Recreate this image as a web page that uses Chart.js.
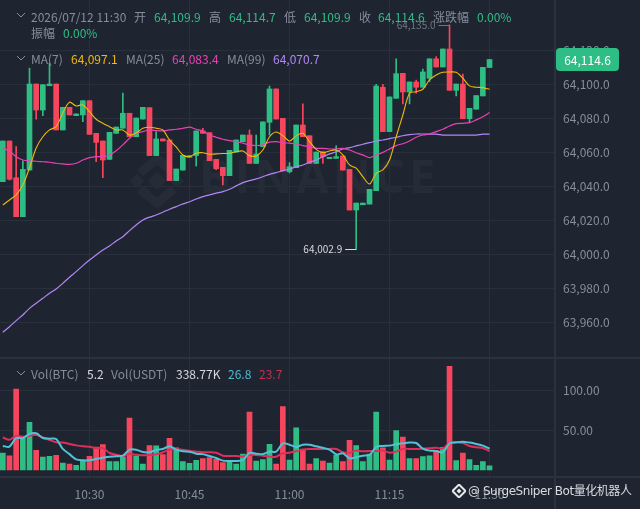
<!DOCTYPE html>
<html>
<head>
<meta charset="utf-8">
<title>BTCUSDT 1m</title>
<script src="https://cdn.jsdelivr.net/npm/chart.js@4"></script>
<style>
  html, body { margin: 0; padding: 0; background: #1f2530; }
  #wrap { position: relative; width: 640px; height: 509px; overflow: hidden; font: 12px "Noto Sans CJK SC", "Noto Sans", sans-serif; color: #848e9c; }
  canvas { position: absolute; left: 0; }
  #priceChart { top: 0; }
  #volChart { top: 358px; }
  #wrap span { position: absolute; white-space: nowrap; line-height: 16px; }
  #wrap svg { position: absolute; }
  .up { color: #2ebd85; }
  .w { color: #d5d9df; }
  .hr { position: absolute; left: 0; width: 640px; height: 2px; background: #2c323d; }
  .vr { position: absolute; left: 554px; top: 0; width: 2px; height: 509px; background: #2c323d; }
</style>
</head>
<body>
<div id="wrap">
  <canvas id="priceChart" width="640" height="358"></canvas>
  <canvas id="volChart" width="640" height="151"></canvas>
  <div class="hr" style="top:357px"></div>
  <div class="hr" style="top:476px"></div>
  <div class="vr"></div>

  <svg style="left:16px;top:12px" width="10" height="7"><polyline points="1,1 5,5 9,1" fill="none" stroke="#848e9c" stroke-width="1"/></svg>
  <span style="left:31px;top:9px">2026/07/12 11:30</span>
  <span style="left:134px;top:9px">开</span><span class="up" style="left:154px;top:9px">64,109.9</span>
  <span style="left:209px;top:9px">高</span><span class="up" style="left:229px;top:9px">64,114.7</span>
  <span style="left:284px;top:9px">低</span><span class="up" style="left:304px;top:9px">64,109.9</span>
  <span style="left:359px;top:9px">收</span><span class="up" style="left:378px;top:9px">64,114.6</span>
  <span style="left:433px;top:9px">涨跌幅</span><span class="up" style="left:477px;top:9px">0.00%</span>
  <span style="left:31px;top:25px">振幅</span><span class="up" style="left:63px;top:25px">0.00%</span>

  <svg style="left:16px;top:55px" width="10" height="7"><polyline points="1,1 5,5 9,1" fill="none" stroke="#848e9c" stroke-width="1"/></svg>
  <span style="left:31px;top:51px">MA(7)</span><span style="left:71px;top:51px;color:#f0b90b">64,097.1</span>
  <span style="left:126px;top:51px">MA(25)</span><span style="left:172px;top:51px;color:#eb40b5">64,083.4</span>
  <span style="left:227px;top:51px">MA(99)</span><span style="left:273px;top:51px;color:#b385f8">64,070.7</span>

  <svg style="left:16px;top:370px" width="10" height="7"><polyline points="1,1 5,5 9,1" fill="none" stroke="#848e9c" stroke-width="1"/></svg>
  <span style="left:31px;top:366px">Vol(BTC)</span><span class="w" style="left:87px;top:366px">5.2</span>
  <span style="left:111px;top:366px">Vol(USDT)</span><span class="w" style="left:176px;top:366px">338.77K</span>
  <span style="left:228px;top:366px;color:#4fb9cf">26.8</span><span style="left:259px;top:366px;color:#c4304f">23.7</span>

  <svg style="left:452px;top:484px" width="14" height="14" viewBox="0 0 14 14"><path d="M7 0.5 13.5 7 7 13.5 0.5 7Z" fill="none" stroke="#e6e8ea" stroke-width="2"/><path d="M7 4.5 9.5 7 7 9.5 4.5 7Z" fill="#e6e8ea"/></svg>
  <span style="left:468px;top:483px;color:#d8dbe0;font-family:'DejaVu Sans','Noto Sans CJK SC',sans-serif;font-size:12px;letter-spacing:-0.45px">@ SurgeSniper Bot量化机器人</span>
</div>

<script>
const opens = [
  64042.8, 64066.7, 64045.1, 64022.2, 64049.6, 64100.2, 64084.9, 64099.2, 64100.2, 64073.2,
  64086.5, 64081.6, 64082.0, 64090.4, 64071.2, 64066.7, 64055.9, 64071.2, 64074.2, 64083.0,
  64069.2, 64079.6, 64086.3, 64058.1, 64067.9, 64067.3, 64043.4, 64049.6, 64057.1, 64058.1,
  64072.6, 64071.6, 64055.9, 64051.2, 64046.3, 64060.2, 64066.3, 64070.2, 64053.5, 64063.4,
  64077.7, 64097.3, 64080.0, 64048.6, 64051.0, 64076.1, 64069.8, 64053.5, 64060.4, 64056.3,
  64056.5, 64057.9, 64050.0, 64026.1, 64029.2, 64029.6, 64037.5, 64098.3, 64072.2, 64091.8,
  64106.5, 64095.5, 64101.4, 64098.3, 64103.6, 64115.0, 64110.2, 64120.8, 64096.5, 64100.2,
  64079.8, 64085.4, 64093.2, 64109.9
]
const closes = [
  64066.7, 64044.2, 64022.2, 64050.0, 64100.2, 64084.9, 64099.8, 64100.2, 64073.2, 64086.5,
  64082.0, 64082.6, 64090.4, 64070.6, 64065.9, 64055.5, 64071.8, 64074.9, 64083.0, 64069.2,
  64080.2, 64086.5, 64058.1, 64067.9, 64066.7, 64043.4, 64050.2, 64058.3, 64058.1, 64072.6,
  64071.2, 64055.1, 64050.4, 64046.3, 64061.2, 64067.3, 64070.2, 64053.5, 64059.0, 64077.9,
  64097.3, 64079.6, 64049.1, 64051.6, 64076.1, 64069.2, 64053.5, 64060.2, 64057.5, 64057.1,
  64057.5, 64049.6, 64026.1, 64030.2, 64030.2, 64038.3, 64099.0, 64072.2, 64092.6, 64106.3,
  64095.5, 64101.4, 64098.3, 64107.3, 64115.0, 64110.2, 64120.8, 64096.5, 64100.2, 64079.8,
  64085.9, 64093.4, 64110.0, 64114.6
]
const highs = [
  64066.7, 64066.7, 64063.4, 64055.0, 64109.5, 64100.2, 64099.8, 64112.4, 64100.2, 64086.5,
  64086.5, 64082.6, 64090.4, 64090.4, 64071.2, 64066.7, 64071.8, 64074.9, 64094.8, 64083.0,
  64080.2, 64086.5, 64086.3, 64072.2, 64067.9, 64067.3, 64050.2, 64058.3, 64058.1, 64072.6,
  64074.2, 64071.6, 64055.9, 64051.2, 64061.2, 64067.3, 64070.2, 64073.2, 64070.2, 64077.9,
  64099.0, 64097.3, 64080.0, 64054.0, 64076.1, 64088.5, 64069.8, 64060.2, 64060.4, 64057.1,
  64063.9, 64057.9, 64050.0, 64030.2, 64030.2, 64038.3, 64100.0, 64100.0, 64092.6, 64115.0,
  64106.5, 64101.4, 64102.5, 64109.0, 64115.0, 64116.3, 64120.8, 64135.0, 64100.2, 64106.0,
  64085.9, 64093.4, 64110.0, 64114.7
]
const lows = [
  64042.8, 64043.7, 64022.2, 64022.2, 64049.6, 64079.5, 64081.6, 64099.2, 64073.2, 64073.2,
  64082.0, 64081.6, 64078.0, 64070.6, 64054.5, 64045.1, 64055.9, 64071.2, 64074.2, 64069.2,
  64069.2, 64079.6, 64058.1, 64058.1, 64066.7, 64043.4, 64043.4, 64049.6, 64057.1, 64052.0,
  64071.2, 64055.1, 64049.8, 64040.8, 64046.3, 64060.2, 64066.3, 64053.5, 64053.5, 64063.4,
  64070.2, 64079.6, 64049.1, 64047.9, 64051.0, 64069.2, 64053.5, 64053.5, 64053.5, 64056.3,
  64056.5, 64049.6, 64026.1, 64002.9, 64029.2, 64029.6, 64037.5, 64072.2, 64072.2, 64091.8,
  64088.5, 64088.5, 64094.8, 64098.3, 64101.6, 64110.2, 64110.2, 64096.5, 64093.2, 64079.8,
  64077.4, 64085.4, 64093.2, 64109.9
]
const ma7 = [
  64029.1, 64032.0, 64035.0, 64040.8, 64050.8, 64062.6, 64069.2, 64073.2, 64075.1, 64083.2,
  64089.5, 64087.3, 64087.9, 64083.9, 64079.5, 64077.1, 64075.1, 64073.2, 64073.2, 64070.2,
  64071.4, 64074.2, 64074.8, 64074.2, 64073.2, 64067.3, 64063.2, 64058.5, 64057.5, 64059.5,
  64059.8, 64058.9, 64059.1, 64059.3, 64059.5, 64060.4, 64060.8, 64058.1, 64057.9, 64061.4,
  64069.2, 64072.0, 64069.8, 64066.7, 64069.7, 64071.2, 64066.3, 64061.8, 64059.8, 64060.8,
  64061.4, 64058.5, 64052.6, 64050.7, 64045.7, 64041.4, 64047.7, 64049.7, 64055.5, 64069.2,
  64082.0, 64094.8, 64095.7, 64097.1, 64102.6, 64105.5, 64107.1, 64107.3, 64107.1, 64103.6,
  64099.1, 64098.3, 64098.1, 64097.1
]
const ma25 = [
  64062.4, 64060.8, 64057.5, 64055.5, 64055.0, 64054.8, 64054.5, 64054.2, 64053.6, 64053.2,
  64053.0, 64053.6, 64055.5, 64056.9, 64057.5, 64057.5, 64058.5, 64061.0, 64064.4, 64068.3,
  64071.2, 64072.2, 64073.2, 64072.8, 64072.6, 64073.2, 64073.6, 64074.2, 64074.8, 64073.6,
  64072.6, 64070.2, 64068.9, 64067.7, 64066.9, 64066.3, 64065.4, 64064.4, 64064.0, 64064.4,
  64066.0, 64066.3, 64065.7, 64065.4, 64065.0, 64064.0, 64063.4, 64062.4, 64062.4, 64062.0,
  64062.0, 64062.4, 64061.4, 64059.8, 64058.5, 64056.9, 64058.5, 64060.0, 64062.0, 64064.0,
  64065.1, 64066.7, 64068.9, 64070.2, 64070.8, 64072.2, 64073.6, 64075.5, 64076.9, 64077.1,
  64077.5, 64079.1, 64081.0, 64083.4
]
const ma99 = [
  63954.2, 63957.5, 63961.1, 63964.4, 63968.3, 63971.3, 63974.2, 63977.2, 63979.7, 63983.0,
  63986.6, 63989.9, 63993.4, 63996.7, 63999.7, 64002.6, 64005.0, 64007.9, 64010.4, 64014.0,
  64017.3, 64020.3, 64021.9, 64023.2, 64024.8, 64026.6, 64028.1, 64029.7, 64031.0, 64032.6,
  64034.0, 64035.0, 64036.0, 64036.9, 64038.3, 64040.3, 64042.2, 64043.4, 64044.4, 64045.7,
  64047.1, 64048.1, 64049.3, 64050.1, 64051.6, 64052.6, 64054.2, 64055.5, 64057.5, 64059.1,
  64060.4, 64062.0, 64062.8, 64063.8, 64064.8, 64065.7, 64066.7, 64067.3, 64068.1, 64068.9,
  64069.8, 64070.4, 64070.8, 64070.8, 64070.7, 64070.7, 64070.2, 64070.1, 64070.1, 64070.1,
  64070.2, 64070.2, 64070.7, 64070.7
]
const volumes = [
  21.4, 18, 102, 40, 60, 24.8, 16.4, 17.2, 18.5, 8.8,
  7.6, 5.9, 11.8, 17.2, 29, 32, 10.5, 10.5, 16, 65.5,
  17.6, 7.6, 30.7, 30.3, 19.3, 40, 28, 10.5, 8.4, 12.2,
  14.3, 15.5, 13.4, 9.2, 10.5, 7.6, 20, 73, 11.3, 13,
  32.4, 7.6, 80, 12.6, 53, 26.5, 7.6, 14.3, 11.3, 8.8,
  18.9, 10.5, 37.4, 30.7, 10.5, 20, 73, 28, 12.6, 49.6,
  41.6, 14.3, 14.3, 16.8, 18, 24.4, 28.6, 130.7, 11.8, 21.4,
  13, 5.9, 10.5, 5.2
]
const volMaFast = [
  30.3, 29.4, 40.3, 40, 45.4, 46.2, 40.3, 39.5, 39, 26.5,
  20, 13.4, 12.2, 12.2, 13.9, 15.5, 16.8, 17.2, 18, 25.6,
  25.6, 22.7, 22.3, 25.2, 26.5, 29.8, 25.6, 23.5, 23.1, 20.6,
  20, 17.6, 15.1, 11.8, 11.3, 11.3, 12.6, 21.4, 20.6, 20,
  23.1, 23.1, 33.6, 31.9, 29, 31.9, 31.9, 29.8, 28, 25.6,
  19.7, 21, 14.7, 16, 18, 18.9, 29, 30.3, 30.7, 32.4,
  33.6, 34.5, 34, 26.9, 24.4, 24, 22.3, 33.6, 34.9, 35.7,
  34.5, 32.8, 30.7, 26.8
]
const volMaSlow = [
  41, 38, 43, 42, 43, 44.5, 41, 37.8, 34.9, 34.5,
  32.8, 31, 29.8, 29.4, 27.3, 27.7, 21.4, 19.3, 17.2, 20,
  19.3, 18.5, 18.9, 19.7, 22.3, 25.6, 26.5, 25.2, 24, 23.1,
  22.3, 22.3, 21.8, 18, 17.6, 17.6, 16.8, 18.9, 18.9, 18,
  16.8, 16.8, 21, 21.8, 23.5, 25.6, 26.5, 26.5, 26.5, 26.5,
  26.5, 22.3, 21.8, 24.4, 23.5, 24, 24, 24.4, 21.8, 23.1,
  26.5, 26.5, 26.5, 26.9, 27.3, 28, 27.3, 34, 34.5, 34,
  30.3, 28.6, 27.7, 23.7
]
const timeTicks = [13, 28, 43, 58, 73]
const timeLabels = ['10:30', '10:45', '11:00', '11:15', '11:30']
const priceTicks = [63960, 63980, 64000, 64020, 64040, 64060, 64080, 64100, 64120]
const volTicks = [50, 100]
const lastPrice = 64114.6
const maxPoint = [67, 64135.0]
const minPoint = [53, 64002.9]

const GREEN = '#2ebd85', RED = '#f6465d', GRID = '#2a303b', TEXT = '#848e9c'
const FONT = '"Noto Sans CJK SC", "Noto Sans", sans-serif'
const xMin = -0.4245, xMax = 82.82

const isUp = opens.map((o, i) => closes[i] >= o)
const barColors = isUp.map(up => up ? GREEN : RED)
const fmt = v => v.toLocaleString('en-US', { minimumFractionDigits: 1, maximumFractionDigits: 1 })

// chart.js leaves room for the outer tick labels, we want the plot edge to edge
function noPadding(s) {
  s.paddingTop = s.paddingBottom = s.paddingLeft = s.paddingRight = 0
}

function xScale(showLabels) {
  return {
    type: 'linear', min: xMin, max: xMax, offset: false,
    afterBuildTicks: s => { s.ticks = timeTicks.map(v => ({ value: v })) },
    afterFit: s => { s.height = showLabels ? 32.3 : 0; noPadding(s) },
    grid: { color: GRID, drawTicks: false, offset: false },
    border: { display: false },
    ticks: {
      display: showLabels, color: TEXT, padding: 11, maxRotation: 0, autoSkip: false,
      font: { family: FONT, size: 12 },
      callback: v => timeLabels[timeTicks.indexOf(v)]
    }
  }
}

function maLine(data, color, width) {
  return {
    type: 'line', data: data.map((y, x) => ({ x, y })), borderColor: color, borderWidth: width,
    pointRadius: 0, tension: 0.3, order: 1
  }
}

// watermark + price marks
const overlay = {
  id: 'overlay',
  beforeDatasetsDraw(chart) {
    const c = chart.ctx
    c.save()
    c.fillStyle = '#262c37'
    c.font = 'bold 47px "Open Sans", sans-serif'
    c.letterSpacing = '4px'
    c.textBaseline = 'middle'
    c.fillText('BINANCE', 199, 180)
    c.letterSpacing = '0px'
    // logo
    const lx = 157, ly = 181
    const diamond = (x, y, r) => {
      c.beginPath(); c.moveTo(x, y - r); c.lineTo(x + r, y); c.lineTo(x, y + r); c.lineTo(x - r, y); c.fill()
    }
    diamond(lx, ly, 9)
    diamond(lx - 20, ly, 7)
    diamond(lx + 20, ly, 7)
    c.lineWidth = 9
    c.strokeStyle = '#262c37'
    c.beginPath(); c.moveTo(lx - 17, ly - 8); c.lineTo(lx, ly - 22); c.lineTo(lx + 17, ly - 8); c.stroke()
    c.beginPath(); c.moveTo(lx - 17, ly + 8); c.lineTo(lx, ly + 22); c.lineTo(lx + 17, ly + 8); c.stroke()
    c.restore()
  },
  afterDraw(chart) {
    const c = chart.ctx, x = chart.scales.x, y = chart.scales.y
    c.save()
    c.font = '10px ' + FONT
    c.textBaseline = 'middle'
    c.textAlign = 'right'
    c.lineWidth = 1

    const hx = x.getPixelForValue(maxPoint[0]), hy = y.getPixelForValue(maxPoint[1])
    c.fillStyle = c.strokeStyle = '#6f7683'
    c.fillText(fmt(maxPoint[1]), hx - 14, hy)
    c.beginPath(); c.moveTo(hx - 11, Math.round(hy) + 0.5); c.lineTo(hx, Math.round(hy) + 0.5); c.stroke()

    const lx = x.getPixelForValue(minPoint[0]), ly = y.getPixelForValue(minPoint[1])
    c.fillStyle = c.strokeStyle = '#d5d9df'
    c.fillText(fmt(minPoint[1]), lx - 14, ly)
    c.beginPath(); c.moveTo(lx - 11, Math.round(ly) + 0.5); c.lineTo(lx, Math.round(ly) + 0.5); c.stroke()

    // current price tag
    const py = y.getPixelForValue(lastPrice)
    c.fillStyle = GREEN
    c.beginPath(); c.roundRect(556, py - 11.5, 63, 23, 4); c.fill()
    c.fillStyle = '#fff'
    c.font = '12px ' + FONT
    c.textAlign = 'center'
    c.fillText(fmt(lastPrice), 587.5, py + 0.5)
    c.restore()
  }
}

new Chart(document.getElementById('priceChart'), {
  type: 'bar',
  data: {
    datasets: [
      maLine(ma7, '#f0b90b', 1.1),
      maLine(ma25, '#eb40b5', 1.2),
      maLine(ma99, '#b385f8', 1.2),
      {
        data: opens.map((o, x) => ({ x, y: [o, closes[x]] })),
        backgroundColor: barColors, barThickness: 5, grouped: false, order: 2
      },
      {
        data: lows.map((l, x) => ({ x, y: [l, highs[x]] })),
        backgroundColor: barColors, barThickness: 1, grouped: false, order: 3
      }
    ]
  },
  options: {
    responsive: false,
    animation: false,
    devicePixelRatio: 1,
    layout: { padding: 0 },
    plugins: { legend: { display: false }, tooltip: { enabled: false } },
    scales: {
      x: xScale(false),
      y: {
        position: 'right', min: 63939.1, max: 64149.6,
        afterBuildTicks: s => { s.ticks = priceTicks.map(v => ({ value: v })) },
        afterFit: s => { s.width = 85; noPadding(s) },
        grid: { color: GRID, drawTicks: false },
        border: { display: false },
        ticks: { color: TEXT, padding: 8, font: { family: FONT, size: 12 }, callback: fmt }
      }
    }
  },
  plugins: [overlay]
})

new Chart(document.getElementById('volChart'), {
  type: 'bar',
  data: {
    datasets: [
      maLine(volMaFast, '#4fc3d8', 2),
      maLine(volMaSlow, '#dd2f5b', 2),
      {
        data: volumes.map((y, x) => ({ x, y })),
        backgroundColor: barColors, barThickness: 5, grouped: false, order: 2
      }
    ]
  },
  options: {
    responsive: false,
    animation: false,
    devicePixelRatio: 1,
    layout: { padding: 0 },
    plugins: { legend: { display: false }, tooltip: { enabled: false } },
    scales: {
      x: xScale(true),
      y: {
        position: 'right', min: -8.44, max: 141.06,
        afterBuildTicks: s => { s.ticks = volTicks.map(v => ({ value: v })) },
        afterFit: s => { s.width = 85; noPadding(s) },
        grid: { color: GRID, drawTicks: false },
        border: { display: false },
        ticks: { color: TEXT, padding: 8, font: { family: FONT, size: 12 }, callback: v => v.toFixed(2) }
      }
    }
  }
})
</script>
</body>
</html>
